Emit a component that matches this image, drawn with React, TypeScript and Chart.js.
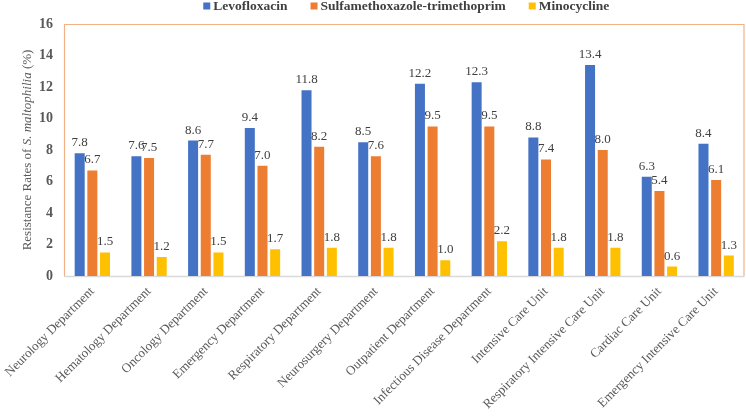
import React, { useEffect, useRef } from "react";
import { Chart, registerables } from "chart.js";

Chart.register(...registerables);

const categories = [
  "Neurology Department",
  "Hematology Department",
  "Oncology Department",
  "Emergency Department",
  "Respiratory Department",
  "Neurosurgery Department",
  "Outpatient Department",
  "Infectious Disease Department",
  "Intensive Care Unit",
  "Respiratory Intensive Care Unit",
  "Cardiac Care Unit",
  "Emergency Intensive Care Unit",
];

const levofloxacin = [7.8, 7.6, 8.6, 9.4, 11.8, 8.5, 12.2, 12.3, 8.8, 13.4, 6.3, 8.4];
const sulfamethoxazole = [6.7, 7.5, 7.7, 7.0, 8.2, 7.6, 9.5, 9.5, 7.4, 8.0, 5.4, 6.1];
const minocycline = [1.5, 1.2, 1.5, 1.7, 1.8, 1.8, 1.0, 2.2, 1.8, 1.8, 0.6, 1.3];

const seriesNames = ["Levofloxacin", "Sulfamethoxazole-trimethoprim", "Minocycline"];
const seriesColors = ["#4472C4", "#ED7D31", "#FFC000"];

const yMin = 0;
const yMax = 16;
const yStep = 2;

const FONT = "'Liberation Serif', serif";

const framePlugin = {
  id: "frame",
  beforeDatasetsDraw(chart: any) {
    const { ctx, chartArea } = chart;
    const { left, right, top, bottom } = chartArea;
    ctx.save();
    ctx.strokeStyle = "#F4B183";
    ctx.lineWidth = 1.2;
    ctx.beginPath();
    ctx.moveTo(left + 0.5, bottom);
    ctx.lineTo(left + 0.5, top + 0.5);
    ctx.lineTo(right - 0.5, top + 0.5);
    ctx.lineTo(right - 0.5, bottom);
    ctx.stroke();
    ctx.strokeStyle = "#D9D9D9";
    ctx.lineWidth = 1.5;
    ctx.beginPath();
    ctx.moveTo(left, bottom + 0.5);
    ctx.lineTo(right, bottom + 0.5);
    ctx.stroke();
    ctx.restore();
  },
};

const labelsPlugin = {
  id: "valueLabels",
  afterDatasetsDraw(chart: any) {
    const { ctx } = chart;
    ctx.save();
    ctx.font = `13px ${FONT}`;
    ctx.fillStyle = "#404040";
    ctx.textAlign = "center";
    ctx.textBaseline = "alphabetic";
    chart.data.datasets.forEach((ds: any, di: number) => {
      const meta = chart.getDatasetMeta(di);
      meta.data.forEach((el: any, i: number) => {
        const v = ds.data[i] as number;
        ctx.fillText(v.toFixed(1), el.x, el.y - 7);
      });
    });
    ctx.restore();
  },
};

const legendPlugin = {
  id: "customLegend",
  afterDraw(chart: any) {
    const { ctx, chartArea } = chart;
    ctx.save();
    ctx.font = `bold 13.5px ${FONT}`;
    ctx.textBaseline = "middle";
    ctx.textAlign = "left";
    const box = 7;
    const gapBoxText = 3;
    const gapItems = 23;
    const items = chart.data.datasets.map((ds: any) => ({
      text: ds.label as string,
      color: ds.backgroundColor as string,
      w: ctx.measureText(ds.label).width,
    }));
    const total =
      items.reduce((s: number, it: any) => s + box + gapBoxText + it.w, 0) +
      gapItems * (items.length - 1);
    let x = (chartArea.left + chartArea.right) / 2 - total / 2 + 2;
    const y = 6;
    items.forEach((it: any) => {
      ctx.fillStyle = it.color;
      ctx.fillRect(x, y - box / 2, box, box);
      ctx.fillStyle = "#404040";
      ctx.fillText(it.text, x + box + gapBoxText, y + 0.5);
      x += box + gapBoxText + it.w + gapItems;
    });
    ctx.restore();
  },
};

const yTitlePlugin = {
  id: "yTitle",
  afterDraw(chart: any) {
    const { ctx, chartArea } = chart;
    const parts = [
      { t: "Resistance Rates of ", f: `13px ${FONT}` },
      { t: "S. maltophilia", f: `italic 13px ${FONT}` },
      { t: " (%)", f: `13px ${FONT}` },
    ];
    ctx.save();
    const widths = parts.map((p) => {
      ctx.font = p.f;
      return ctx.measureText(p.t).width;
    });
    const total = widths.reduce((a, b) => a + b, 0);
    ctx.translate(27.5, (chartArea.top + chartArea.bottom) / 2);
    ctx.rotate(-Math.PI / 2);
    ctx.fillStyle = "#595959";
    ctx.textBaseline = "middle";
    ctx.textAlign = "left";
    let x = -total / 2;
    parts.forEach((p, i) => {
      ctx.font = p.f;
      ctx.fillText(p.t, x, 0);
      x += widths[i];
    });
    ctx.restore();
  },
};

export default function App() {
  const ref = useRef<HTMLCanvasElement | null>(null);

  useEffect(() => {
    document.body.style.margin = "0";
    if (!ref.current) return;
    const chart = new Chart(ref.current, {
      type: "bar",
      data: {
        labels: categories,
        datasets: [
          { label: seriesNames[0], data: levofloxacin, backgroundColor: seriesColors[0] },
          { label: seriesNames[1], data: sulfamethoxazole, backgroundColor: seriesColors[1] },
          { label: seriesNames[2], data: minocycline, backgroundColor: seriesColors[2] },
        ],
      },
      options: {
        responsive: false,
        animation: false,
        layout: { padding: { top: 24, right: 1.5, left: 0, bottom: 0 } },
        datasets: {
          bar: { categoryPercentage: 0.67, barPercentage: 0.79 },
        },
        plugins: {
          legend: { display: false },
          tooltip: { enabled: false },
          title: { display: false },
        },
        scales: {
          x: {
            grid: { display: false, drawTicks: false },
            border: { display: false },
            ticks: {
              autoSkip: false,
              maxRotation: 45,
              minRotation: 45,
              padding: 8,
              color: "#595959",
              font: { family: FONT, size: 13 },
            },
            afterFit(scale: any) {
              scale.height = 140;
              scale.paddingLeft = 0;
              scale.paddingRight = 0;
            },
          },
          y: {
            min: yMin,
            max: yMax,
            grid: { display: false, drawTicks: false },
            border: { display: false },
            ticks: {
              stepSize: yStep,
              padding: 11,
              color: "#595959",
              font: { family: FONT, size: 14, weight: "bold" },
            },
            afterFit(scale: any) {
              scale.width = 64;
            },
          },
        },
      },
      plugins: [framePlugin, labelsPlugin, legendPlugin, yTitlePlugin],
    } as any);
    return () => chart.destroy();
  }, []);

  return (
    <div style={{ position: "fixed", left: 0, top: 0, width: 746, height: 416, background: "#fff" }}>
      <canvas ref={ref} width={746} height={416} style={{ width: 746, height: 416 }} />
    </div>
  );
}
